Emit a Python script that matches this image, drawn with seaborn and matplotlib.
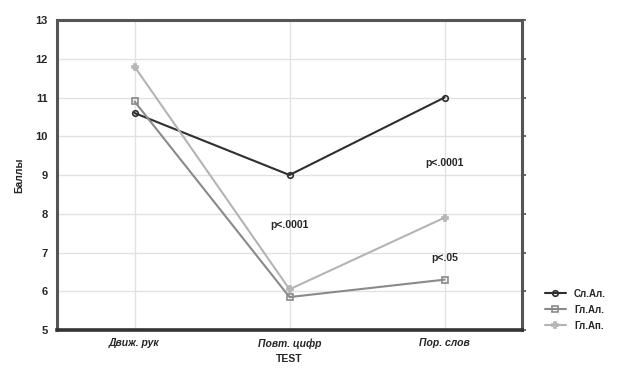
import numpy as np
import pandas as pd
import matplotlib
matplotlib.use("Agg")
import matplotlib.pyplot as plt
import seaborn as sns

tests = ["Движ. рук", "Повт. цифр", "Пор. слов"]
groups = ["Сл.Ал.", "Гл.Ал.", "Гл.Ап."]
scores_sl_al = [10.6, 9.0, 11.0]
scores_gl_al = [10.9, 5.85, 6.3]
scores_gl_ap = [11.8, 6.05, 7.9]
p_labels = ["p<.0001", "p<.0001", "p<.05"]

rows = []
for g, vals in zip(groups, [scores_sl_al, scores_gl_al, scores_gl_ap]):
    for i, (t, v) in enumerate(zip(tests, vals)):
        rows.append({"TEST": t, "pos": i, "Баллы": v, "group": g})
df = pd.DataFrame(rows)

sns.set_theme(style="white")
plt.rcParams["font.family"] = ["Liberation Sans", "DejaVu Sans"]
plt.rcParams["font.weight"] = "bold"

fig = plt.figure(figsize=(6.29, 3.74), dpi=100)
ax = fig.add_axes([0.0906, 0.1176, 0.7394, 0.8289])

palette = {"Сл.Ал.": "#2e2e2e", "Гл.Ал.": "#8a8a8a", "Гл.Ап.": "#b4b4b4"}
markers = {"Сл.Ал.": "o", "Гл.Ал.": "s", "Гл.Ап.": "P"}
sns.lineplot(data=df, x="pos", y="Баллы", hue="group", style="group",
             palette=palette, markers=markers, dashes=False,
             markersize=4, linewidth=1.5, ax=ax, legend=True)
for ln in ax.lines:
    ln.set_markerfacecolor("none")
    ln.set_markeredgecolor(ln.get_color())
    ln.set_markeredgewidth(1.2)

ax.set_xlim(-0.5, 2.5)
ax.set_ylim(5, 13)
ax.set_xticks(range(len(tests)))
ax.set_xticklabels(tests, fontsize=7.5, fontweight="bold", style="italic")
ax.set_yticks(range(5, 14))
ax.tick_params(axis="y", labelsize=8, length=3, color="#555555",
               right=True, direction="out")
ax.tick_params(axis="x", length=0, pad=6)
for lab in ax.get_yticklabels():
    lab.set_fontweight("bold")
ax.grid(True, color="#e2e2e2", linewidth=1.0)
for name, s in ax.spines.items():
    s.set_color("#555555")
    s.set_linewidth(2.2)
ax.spines["bottom"].set_color("#333333")
ax.spines["bottom"].set_linewidth(2.6)
ax.set_xlabel("TEST", fontsize=7.5, fontweight="bold", labelpad=4)
ax.set_ylabel("Баллы", fontsize=7.5, fontweight="bold", labelpad=8)

ax.text(1.0, 7.7, p_labels[0], ha="center", va="center", fontsize=7.5, fontweight="bold")
ax.text(2.0, 9.3, p_labels[1], ha="center", va="center", fontsize=7.5, fontweight="bold")
ax.text(2.0, 6.85, p_labels[2], ha="center", va="center", fontsize=7.5, fontweight="bold")

handles, labels = ax.get_legend_handles_labels()
for h in handles:
    h.set_markerfacecolor("none")
    h.set_markeredgecolor(h.get_color())
    h.set_markeredgewidth(1.2)
ax.legend(handles, labels, loc="lower left", bbox_to_anchor=(1.03, -0.03),
          frameon=False, handlelength=2.2, labelspacing=0.6,
          prop={"weight": "bold", "size": 7})

fig.savefig("out.png", dpi=100)
